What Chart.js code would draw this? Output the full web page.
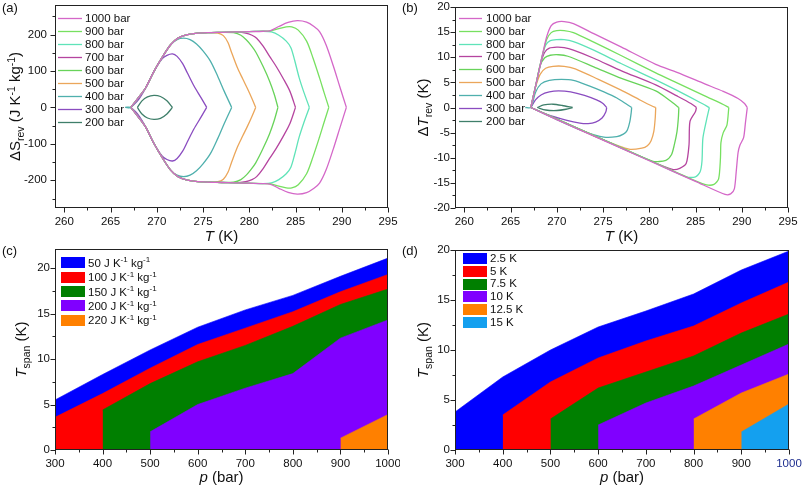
<!DOCTYPE html>
<html><head><meta charset="utf-8">
<script src="https://cdn.jsdelivr.net/npm/chart.js@4"></script>
<style>
html,body{margin:0;padding:0;background:#fff}
body{width:803px;height:487px;overflow:hidden;position:relative}
canvas{position:absolute}
</style></head><body>
<canvas id="ca" width="400" height="248" style="left:0;top:0"></canvas>
<canvas id="cb" width="403" height="248" style="left:400px;top:0"></canvas>
<canvas id="cc" width="400" height="244" style="left:0;top:243px"></canvas>
<canvas id="cd" width="403" height="244" style="left:400px;top:243px"></canvas>
<script>
const FF = '"Liberation Sans", Arial, Helvetica, sans-serif';

// ===== Panel (a): ΔS_rev vs T (upper and lower branches) =====
const pressureLabels = ['1000 bar','900 bar','800 bar','700 bar','600 bar','500 bar','400 bar','300 bar','200 bar'];
const lineColors = ['#d467c8','#77e060','#5fe3b8','#b5449f','#68d35a','#eba65a','#4fb0ad','#8a4cc0','#3f7f6a'];

const aT200 = [267.9, 268.4, 269.0, 269.7, 270.4, 271.1, 271.7];
const aUp200 = [0, 18, 29, 33, 30, 18, 0];
const aDn200 = [0, -18, -29, -33, -30, -18, 0];

const aT300 = [267.2, 267.9, 268.8, 269.7, 270.6, 271.1, 271.7, 272.2, 272.8, 273.3, 274.0, 274.8, 275.4];
const aUp300 = [0, 17, 53, 99, 134, 143, 147, 140, 120, 95, 60, 26, 0];
const aDn300 = [0, -17, -53, -99, -134, -143, -147, -140, -120, -95, -60, -26, 0];

const aT400 = [266.6, 267.2, 268.0, 268.8, 269.7, 270.6, 271.5, 272.2, 272.9, 273.6, 274.3, 275.0, 275.8, 276.6, 277.3, 278.1];
const aUp400 = [0, 0, 26, 54, 99, 138, 172, 186, 190, 186, 174, 155, 127, 85, 44, 0];
const aDn400 = [0, 0, -26, -54, -99, -138, -172, -186, -190, -186, -174, -155, -127, -85, -44, 0];

const aT500 = [267.2, 268.0, 268.8, 269.7, 270.6, 271.5, 272.3, 273.2, 274.2, 275.5, 276.6, 277.2, 277.7, 278.1, 278.7, 279.3, 279.8, 280.3, 280.7];
const aUp500 = [0, 26, 54, 99, 138, 172, 190, 199, 203, 205, 204, 197, 178, 150, 110, 78, 52, 24, 0];
const aDn500 = [0, -26, -54, -99, -138, -172, -190, -199, -203, -205, -204, -197, -178, -150, -110, -78, -52, -24, 0];

const aT600 = [267.2, 268.0, 268.8, 269.7, 270.6, 271.5, 272.3, 273.2, 274.2, 275.5, 277.0, 278.3, 279.1, 279.7, 280.2, 280.7, 281.5, 282.2, 282.7, 283.1];
const aUp600 = [0, 26, 54, 99, 138, 172, 190, 199, 203, 205, 206, 205, 198, 185, 170, 152, 112, 72, 36, 0];
const aDn600 = [0, -26, -54, -99, -138, -172, -190, -199, -203, -205, -206, -205, -198, -185, -170, -152, -112, -72, -36, 0];

const aT700 = [267.2, 268.0, 268.8, 269.7, 270.6, 271.5, 272.3, 273.2, 274.2, 275.5, 277.0, 278.5, 279.6, 280.3, 280.8, 281.5, 282.2, 282.9, 283.7, 284.4, 285.0];
const aUp700 = [0, 26, 54, 99, 138, 172, 190, 199, 203, 205, 206, 207, 204, 198, 190, 168, 140, 113, 78, 44, 0];
const aDn700 = [0, -26, -54, -99, -138, -172, -190, -199, -203, -205, -206, -207, -204, -198, -190, -168, -140, -113, -78, -44, 0];

const aT800 = [267.2, 268.0, 268.8, 269.7, 270.6, 271.5, 272.3, 273.2, 274.2, 275.5, 277.0, 278.5, 280.0, 281.5, 282.4, 283.2, 284.0, 284.5, 284.9, 285.4, 285.9, 286.5];
const aUp800 = [0, 26, 54, 99, 138, 172, 190, 199, 203, 205, 206, 207, 208, 209, 207, 198, 182, 164, 130, 81, 42, 0];
const aDn800 = [0, -26, -54, -99, -138, -172, -190, -199, -203, -205, -206, -207, -208, -209, -207, -198, -182, -164, -130, -81, -42, 0];

const aT900 = [267.2, 268.0, 268.8, 269.7, 270.6, 271.5, 272.3, 273.2, 274.2, 275.5, 277.0, 278.5, 280.0, 281.5, 282.3, 283.2, 284.0, 284.6, 285.3, 286.2, 286.9, 287.6, 288.1, 288.6];
const aUp900 = [0, 26, 54, 99, 138, 172, 190, 199, 203, 205, 206, 207, 208, 209, 210, 216, 221, 221, 212, 182, 135, 81, 40, 0];
const aDn900 = [0, -26, -54, -99, -138, -172, -190, -199, -203, -205, -206, -207, -208, -209, -210, -216, -221, -221, -212, -182, -135, -81, -40, 0];

const aT1000 = [267.2, 268.0, 268.8, 269.7, 270.6, 271.5, 272.3, 273.2, 274.2, 275.5, 277.0, 278.5, 280.0, 281.5, 282.3, 283.2, 284.2, 285.2, 286.2, 287.0, 287.6, 288.3, 289.1, 289.8, 290.5];
const aUp1000 = [0, 26, 54, 99, 138, 172, 190, 199, 203, 205, 206, 207, 208, 209, 211, 222, 233, 238, 234, 222, 208, 172, 113, 56, 0];
const aDn1000 = [0, -26, -54, -99, -138, -172, -190, -199, -203, -205, -206, -207, -208, -209, -211, -222, -233, -238, -234, -222, -208, -172, -113, -56, 0];

const aXTicks = [260, 265, 270, 275, 280, 285, 290, 295];
const aXMinor = [262.5, 267.5, 272.5, 277.5, 282.5, 287.5, 292.5];
const aYTicks = [-200, -100, 0, 100, 200];
const aYMinor = [-250, -150, -50, 50, 150, 250];

// ===== Panel (b): ΔT_rev vs T =====
const bTu200 = [267.9, 268.6, 269.6, 270.6, 271.7];
const bUp200 = [0, 0.5, 0.65, 0.4, 0];
const bTd200 = [267.9, 268.8, 270.0, 271.0, 271.7];
const bDn200 = [0, -0.5, -0.6, -0.35, 0];

const bTu300 = [267.2, 267.7, 268.3, 269.2, 270.2, 271.5, 273.0, 274.3, 275.0, 275.4];
const bUp300 = [0, 1.5, 2.5, 3.1, 3.3, 3.1, 2.4, 1.5, 0.8, 0];
const bTd300 = [267.2, 269.0, 271.0, 272.5, 273.4, 274.2, 274.9, 275.3, 275.4];
const bDn300 = [0, -1.4, -2.5, -3.1, -3.2, -2.9, -2.1, -0.9, 0];

const bTu400 = [266.6, 267.2, 267.7, 268.3, 269.2, 270.5, 271.8, 273.5, 275.1, 276.5, 277.6, 278.1];
const bUp400 = [0, 0, 3, 4.7, 5.4, 5.6, 5.4, 4.3, 3.1, 1.9, 0.6, 0];
const bTd400 = [267.2, 270.0, 273.0, 275.1, 276.5, 277.2, 277.6, 277.9, 278.05, 278.1];
const bDn400 = [0, -2.4, -4.8, -5.9, -5.8, -5.3, -4.6, -2.8, -1.0, 0];

const bTu500 = [267.2, 267.7, 268.2, 268.8, 269.6, 270.8, 272.0, 274.5, 276.9, 279.0, 280.3, 280.7];
const bUp500 = [0, 4, 6.6, 7.8, 8.2, 8.2, 7.7, 5.6, 3.5, 1.5, 0.3, 0];
const bTd500 = [267.2, 270.0, 275.0, 277.8, 279.2, 279.8, 280.2, 280.5, 280.65, 280.7];
const bDn500 = [0, -2.3, -6.4, -8.3, -8.1, -7.6, -6.6, -4.7, -2.0, 0];

const bTu600 = [267.2, 267.8, 268.2, 268.7, 269.3, 270.2, 271.2, 274.0, 277.0, 280.7, 282.3, 283.2];
const bUp600 = [0, 5, 8.3, 9.9, 10.4, 10.5, 10.2, 8.1, 5.8, 3.3, 1.3, 0];
const bTd600 = [267.2, 270.0, 275.0, 280.4, 281.8, 282.4, 282.7, 283.0, 283.15, 283.2];
const bDn600 = [0, -2.3, -6.4, -10.7, -10.5, -9.4, -7.5, -4.8, -2.0, 0];

const bTu700 = [267.2, 267.8, 268.3, 268.7, 269.2, 270.0, 270.8, 271.8, 274.0, 277.0, 280.7, 283.0, 284.5, 285.1];
const bUp700 = [0, 5, 9, 11, 11.8, 12.0, 11.9, 11.4, 9.8, 7.3, 4.5, 2.3, 0.8, 0];
const bTd700 = [267.2, 270.0, 275.0, 280.0, 282.5, 283.3, 284.0, 284.3, 284.4, 285.0, 285.1];
const bDn700 = [0, -2.3, -6.4, -10.5, -12.3, -12.1, -11.1, -7.4, -2.8, -0.8, 0];

const bTu800 = [267.2, 267.8, 268.4, 268.8, 269.3, 270.0, 270.8, 271.8, 274.0, 277.0, 280.7, 283.0, 285.5, 286.5];
const bUp800 = [0, 5, 10, 12.4, 13.3, 13.5, 13.5, 13.1, 11.4, 8.7, 5.5, 3.4, 1.0, 0];
const bTd800 = [267.2, 270.0, 275.0, 280.0, 284.0, 285.0, 285.5, 285.7, 285.8, 286.2, 286.5];
const bDn800 = [0, -2.3, -6.4, -10.5, -13.8, -13.8, -12.8, -10.7, -6.1, -2.4, 0];

const bTu900 = [267.2, 267.8, 268.4, 268.9, 269.4, 270.0, 270.8, 271.8, 274.0, 277.0, 280.7, 283.0, 286.0, 288.0, 288.6];
const bUp900 = [0, 5, 10, 13.5, 14.9, 15.3, 15.3, 14.9, 13.0, 10.3, 6.9, 4.9, 2.3, 0.6, 0];
const bTd900 = [267.2, 270.0, 275.0, 280.0, 285.0, 286.2, 287.0, 287.5, 287.7, 287.75, 288.0, 288.4, 288.6];
const bDn900 = [0, -2.3, -6.4, -10.5, -14.6, -15.4, -15.3, -14.2, -10.0, -7.0, -5.0, -3.5, 0];

const bTu1000 = [267.2, 267.8, 268.4, 268.9, 269.4, 270.0, 270.8, 271.8, 274.0, 277.0, 280.7, 283.0, 286.0, 288.0, 289.6, 290.3, 290.6];
const bUp1000 = [0, 5, 10, 14, 16.3, 17.0, 17.1, 16.7, 14.7, 12.0, 8.6, 7.0, 4.7, 3.2, 1.8, 0.8, 0];
const bTd1000 = [267.2, 270.0, 275.0, 280.0, 285.0, 288.2, 288.8, 289.2, 289.4, 289.6, 289.8, 290.2, 290.4, 290.6];
const bDn1000 = [0, -2.4, -6.5, -10.6, -14.7, -17.3, -17.2, -16.2, -12.8, -9.0, -7.5, -6.0, -3.0, 0];

const bYTicks = [-20, -15, -10, -5, 0, 5, 10, 15, 20];
const bYMinor = [-17.5, -12.5, -7.5, -2.5, 2.5, 7.5, 12.5, 17.5];

// ===== Panel (c): T_span vs p for ΔS thresholds =====
const pressures = [300, 400, 500, 600, 700, 800, 900, 1000];
const cLabels = ['50', '100', '150', '200', '220'];
const cColors = ['#0000ff', '#ff0000', '#007f00', '#8000ff', '#ff8000'];
const cSpan50  = [5.5, 8.3, 11.0, 13.5, 15.4, 17.0, 19.1, 21.1];
const cSpan100 = [3.6, 6.2, 9.0, 11.6, 13.4, 15.2, 17.4, 19.3];
const cSpan150 = [null, 4.4, 7.3, 9.7, 11.5, 13.6, 16.0, 17.7];
const cSpan200 = [null, null, 2.0, 5.0, 6.8, 8.4, 12.3, 14.3];
const cSpan220 = [null, null, null, null, null, null, 1.3, 3.9];

// ===== Panel (d): T_span vs p for ΔT thresholds =====
const dLabels = ['2.5 K', '5 K', '7.5 K', '10 K', '12.5 K', '15 K'];
const dColors = ['#0000ff', '#ff0000', '#007f00', '#8000ff', '#ff8000', '#14a0ef'];
const dSpan25  = [3.8, 7.3, 10.0, 12.3, 13.9, 15.6, 18.0, 19.9];
const dSpan5   = [null, 3.5, 6.8, 9.2, 10.9, 12.4, 14.7, 16.8];
const dSpan75  = [null, null, 3.1, 6.2, 7.8, 9.4, 11.7, 13.6];
const dSpan10  = [null, null, null, 2.5, 4.7, 6.4, 8.5, 10.6];
const dSpan125 = [null, null, null, null, null, 3.1, 5.7, 7.6];
const dSpan15  = [null, null, null, null, null, null, 1.8, 4.6];

const pTicks = [300, 400, 500, 600, 700, 800, 900, 1000];
const pMinor = [350, 450, 550, 650, 750, 850, 950];
const spanTicks = [0, 5, 10, 15, 20];
const spanMinor = [2.5, 7.5, 12.5, 17.5];

// ===== helpers =====
function pts(xs, ys) { const out = []; xs.forEach((x, i) => { if (ys[i] !== null) out.push({x: x, y: ys[i]}); }); return out; }
function segFont(k, s) { const small = (k === 'sub' || k === 'sup'); return (k === 'i' ? 'italic ' : '') + (small ? s * 0.7 : s) + 'px ' + FF; }
function richWidth(ctx, segs, s) { let w = 0; segs.forEach(([t, k]) => { ctx.font = segFont(k, s); w += ctx.measureText(t).width; }); return w; }
function richDraw(ctx, segs, x, yMid, s, align) {
  let cx = align === 'center' ? x - richWidth(ctx, segs, s) / 2 : x;
  const base = yMid + s * 0.36;
  ctx.textAlign = 'left'; ctx.textBaseline = 'alphabetic';
  segs.forEach(([t, k]) => {
    ctx.font = segFont(k, s);
    const dy = k === 'sub' ? s * 0.25 : (k === 'sup' ? -s * 0.38 : 0);
    ctx.fillText(t, cx, base + dy);
    cx += ctx.measureText(t).width;
  });
}
function axis(min, max, ticks, pad, isX, size, colorFn) {
  return {
    type: 'linear', min: min, max: max,
    grid: {display: false, drawTicks: false}, border: {display: false},
    ticks: {padding: pad, color: colorFn || '#111', font: {family: FF, size: 11.5}, autoSkip: false, maxRotation: 0, callback: v => String(v)},
    afterBuildTicks: s => { s.ticks = ticks.map(v => ({value: v})); },
    afterFit: s => { if (isX) s.height = size; else s.width = size; s.paddingLeft = 0; s.paddingRight = 0; s.paddingTop = 0; s.paddingBottom = 0; }
  };
}
function panelPlugin(o) {
  return {
    id: 'panel',
    afterDraw(chart) {
      const ctx = chart.ctx, a = chart.chartArea, xs = chart.scales.x, ys = chart.scales.y;
      ctx.save();
      const L = Math.round(a.left) + 0.5, R = Math.round(a.right) - 0.5, T = Math.round(a.top) + 0.5, B = Math.round(a.bottom) - 0.5;
      ctx.strokeStyle = '#222'; ctx.lineWidth = 1;
      ctx.strokeRect(L, T, R - L, B - T);
      ctx.beginPath();
      o.xMaj.forEach(v => { const p = Math.round(xs.getPixelForValue(v)) + 0.5; ctx.moveTo(p, B); ctx.lineTo(p, B + 5); });
      o.xMin.forEach(v => { const p = Math.round(xs.getPixelForValue(v)) + 0.5; ctx.moveTo(p, B); ctx.lineTo(p, B + 3); });
      o.yMaj.forEach(v => { const p = Math.round(ys.getPixelForValue(v)) + 0.5; ctx.moveTo(L, p); ctx.lineTo(L - 5, p); });
      o.yMin.forEach(v => { const p = Math.round(ys.getPixelForValue(v)) + 0.5; ctx.moveTo(L, p); ctx.lineTo(L - 3, p); });
      ctx.stroke();
      ctx.fillStyle = '#111';
      ctx.font = '13px ' + FF; ctx.textAlign = 'left'; ctx.textBaseline = 'middle';
      ctx.fillText(o.tag, 2, o.tagY);
      richDraw(ctx, o.xTitle, (a.left + a.right) / 2, o.xTitleY, 15, 'center');
      ctx.save();
      ctx.translate(o.yTitleX, (a.top + a.bottom) / 2);
      ctx.rotate(-Math.PI / 2);
      richDraw(ctx, o.yTitle, 0, 0, 15, 'center');
      ctx.restore();
      o.legend(ctx);
      ctx.restore();
    }
  };
}
function lineLegend(x0, x1, tx, y0, dy) {
  return ctx => {
    pressureLabels.forEach((l, i) => {
      const y = Math.round(y0 + i * dy) + 0.5;
      ctx.strokeStyle = lineColors[i]; ctx.lineWidth = 1.3;
      ctx.beginPath(); ctx.moveTo(x0, y); ctx.lineTo(x1, y); ctx.stroke();
      ctx.fillStyle = '#111'; ctx.font = '11.5px ' + FF; ctx.textBaseline = 'middle'; ctx.textAlign = 'left';
      ctx.fillText(l, tx, y);
    });
  };
}
function boxLegend(labels, colors, bx, bw, bh, tx, y0, dy, rich) {
  return ctx => {
    labels.forEach((l, i) => {
      const y = y0 + i * dy;
      ctx.fillStyle = colors[i];
      ctx.fillRect(bx, Math.round(y - bh / 2), bw, bh);
      ctx.fillStyle = '#111';
      if (rich) richDraw(ctx, [[l + ' J K', 'n'], ['-1', 'sup'], [' kg', 'n'], ['-1', 'sup']], tx, y, 11.5, 'left');
      else { ctx.font = '11.5px ' + FF; ctx.textBaseline = 'middle'; ctx.textAlign = 'left'; ctx.fillText(l, tx, y); }
    });
  };
}
function lineSet(label, color, xs, ys, tension) {
  return {label: label, data: pts(xs, ys), showLine: true, borderColor: color, borderWidth: 1.3, pointRadius: 0, fill: false, tension: tension};
}

// ===== Panel (a) chart =====
const aSeries = [[aT1000, aUp1000, aDn1000], [aT900, aUp900, aDn900], [aT800, aUp800, aDn800], [aT700, aUp700, aDn700], [aT600, aUp600, aDn600], [aT500, aUp500, aDn500], [aT400, aUp400, aDn400], [aT300, aUp300, aDn300], [aT200, aUp200, aDn200]];
const aSets = [];
aSeries.forEach((s, i) => { aSets.push(lineSet(pressureLabels[i], lineColors[i], s[0], s[1], 0.3)); aSets.push(lineSet(pressureLabels[i], lineColors[i], s[0], s[2], 0.3)); });
new Chart(document.getElementById('ca'), {
  type: 'scatter',
  data: {datasets: aSets},
  options: {
    responsive: false, animation: false, devicePixelRatio: 1,
    layout: {padding: {top: 5, right: 12, left: 0, bottom: 0}},
    plugins: {legend: {display: false}, tooltip: {enabled: false}},
    scales: {x: axis(259, 295, aXTicks, 7, true, 40), y: axis(-276, 281, aYTicks, 8, false, 55)}
  },
  plugins: [panelPlugin({tag: '(a)', tagY: 8, xMaj: aXTicks, xMin: aXMinor, yMaj: aYTicks, yMin: aYMinor,
    xTitle: [['T', 'i'], [' (K)', 'n']], xTitleY: 236, yTitleX: 15,
    yTitle: [['ΔS', 'n'], ['rev', 'sub'], [' (J K', 'n'], ['-1', 'sup'], [' kg', 'n'], ['-1', 'sup'], [')', 'n']],
    legend: lineLegend(58, 82, 85, 18.3, 12.9)})]
});

// ===== Panel (b) chart =====
const bSeries = [[bTu1000, bUp1000, bTd1000, bDn1000], [bTu900, bUp900, bTd900, bDn900], [bTu800, bUp800, bTd800, bDn800], [bTu700, bUp700, bTd700, bDn700], [bTu600, bUp600, bTd600, bDn600], [bTu500, bUp500, bTd500, bDn500], [bTu400, bUp400, bTd400, bDn400], [bTu300, bUp300, bTd300, bDn300], [bTu200, bUp200, bTd200, bDn200]];
const bSets = [];
bSeries.forEach((s, i) => { bSets.push(lineSet(pressureLabels[i], lineColors[i], s[0], s[1], 0.25)); bSets.push(lineSet(pressureLabels[i], lineColors[i], s[2], s[3], 0.25)); });
new Chart(document.getElementById('cb'), {
  type: 'scatter',
  data: {datasets: bSets},
  options: {
    responsive: false, animation: false, devicePixelRatio: 1,
    layout: {padding: {top: 7, right: 15, left: 0, bottom: 0}},
    plugins: {legend: {display: false}, tooltip: {enabled: false}},
    scales: {x: axis(259, 295, aXTicks, 7, true, 40), y: axis(-20, 20, bYTicks, 5, false, 55)}
  },
  plugins: [panelPlugin({tag: '(b)', tagY: 8, xMaj: aXTicks, xMin: aXMinor, yMaj: bYTicks, yMin: bYMinor,
    xTitle: [['T', 'i'], [' (K)', 'n']], xTitleY: 236, yTitleX: 23,
    yTitle: [['Δ', 'n'], ['T', 'i'], ['rev', 'sub'], [' (K)', 'n']],
    legend: lineLegend(59, 82, 86, 17.7, 12.9)})]
});

// ===== Panel (c) chart =====
function areaSet(label, color, ys, order) {
  return {label: label, data: pts(pressures, ys), fill: 'origin', backgroundColor: color, borderColor: color, borderWidth: 0.6, pointRadius: 0, tension: 0, order: order};
}
const cVals = [cSpan50, cSpan100, cSpan150, cSpan200, cSpan220];
new Chart(document.getElementById('cc'), {
  type: 'line',
  data: {datasets: cVals.map((v, i) => areaSet(cLabels[i], cColors[i], v, 10 - i))},
  options: {
    responsive: false, animation: false, devicePixelRatio: 1,
    layout: {padding: {top: 6, right: 12, left: 0, bottom: 0}},
    plugins: {legend: {display: false}, tooltip: {enabled: false}},
    scales: {x: axis(300, 1000, pTicks, 7, true, 37), y: axis(0, 22.1, spanTicks, 5, false, 55)}
  },
  plugins: [panelPlugin({tag: '(c)', tagY: 8.7, xMaj: pTicks, xMin: pMinor, yMaj: spanTicks, yMin: spanMinor,
    xTitle: [['p', 'i'], [' (bar)', 'n']], xTitleY: 234, yTitleX: 21,
    yTitle: [['T', 'i'], ['span', 'sub'], [' (K)', 'n']],
    legend: boxLegend(cLabels, cColors, 61, 24, 11, 88, 19.7, 14.4, true)})]
});

// ===== Panel (d) chart =====
const dVals = [dSpan25, dSpan5, dSpan75, dSpan10, dSpan125, dSpan15];
new Chart(document.getElementById('cd'), {
  type: 'line',
  data: {datasets: dVals.map((v, i) => areaSet(dLabels[i], dColors[i], v, 10 - i))},
  options: {
    responsive: false, animation: false, devicePixelRatio: 1,
    layout: {padding: {top: 7, right: 14, left: 0, bottom: 0}},
    plugins: {legend: {display: false}, tooltip: {enabled: false}},
    scales: {x: axis(300, 1000, pTicks, 7, true, 37, c => (c.tick && c.tick.value === 1000) ? '#1f2f8f' : '#111'), y: axis(0, 20, spanTicks, 5, false, 55)}
  },
  plugins: [panelPlugin({tag: '(d)', tagY: 8.7, xMaj: pTicks, xMin: pMinor, yMaj: spanTicks, yMin: spanMinor,
    xTitle: [['p', 'i'], [' (bar)', 'n']], xTitleY: 234, yTitleX: 23,
    yTitle: [['T', 'i'], ['span', 'sub'], [' (K)', 'n']],
    legend: boxLegend(dLabels, dColors, 63, 24, 11, 90, 15.7, 12.75, false)})]
});
</script></body></html>
